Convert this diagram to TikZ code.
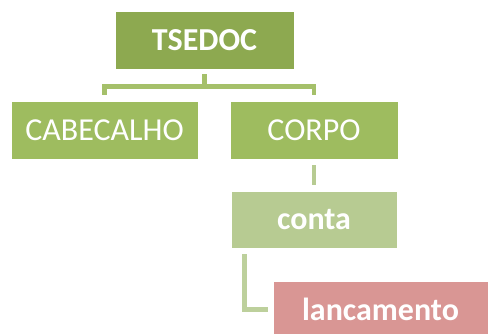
\documentclass[tikz,border=0pt]{standalone}
\usepackage{fontspec}
\setmainfont{Carlito}
\definecolor{gtop}{HTML}{8DA950}
\definecolor{gmid}{HTML}{9EBC5F}
\definecolor{glight}{HTML}{B7CB92}
\definecolor{rbox}{HTML}{D99694}
\definecolor{cline}{HTML}{A5C06A}
\definecolor{cline2}{HTML}{BDD09C}
\tikzset{
  box/.style={draw=white, line width=0.6pt, text=white, inner sep=0pt, font=\fontsize{32}{36}\selectfont},
  boldbox/.style={box, font=\fontsize{32}{36}\selectfont\bfseries},
  conn/.style={line width=4.5pt, line cap=butt}
}
\begin{document}
\begin{tikzpicture}[x=1pt,y=-1pt]
\useasboundingbox (0,0) rectangle (490,334);
\begin{scope}
\clip (0,0) rectangle (490,334);
\node[boldbox, fill=gtop, minimum width=179pt, minimum height=58pt] (ts) at (204.5,40) {TSEDOC};
\node[box, fill=gmid, minimum width=187pt, minimum height=58pt] (cab) at (104.5,130) {CABECALHO};
\node[box, fill=gmid, minimum width=168pt, minimum height=58pt] (cor) at (314,130) {CORPO};
\node[boldbox, fill=glight, minimum width=166pt, minimum height=57pt] (con) at (314,219.5) {conta};
\node[boldbox, fill=rbox, minimum width=215pt, minimum height=57pt] (lan) at (380.5,309.5) {lancamento};
\draw[conn, draw=cline, shorten <=5pt, shorten >=6pt] (ts.south) -- ++(0,17) -| (cab.north);
\draw[conn, draw=cline, shorten <=5pt, shorten >=6pt] (ts.south) -- ++(0,17) -| (cor.north);
\draw[conn, draw=glight, shorten <=6pt, shorten >=6pt] (cor.south) -- (con.north);
\draw[conn, draw=cline2, shorten <=6pt, shorten >=5pt] ([xshift=14pt]con.south west) |- (lan.west);
\end{scope}
\end{tikzpicture}
\end{document}
